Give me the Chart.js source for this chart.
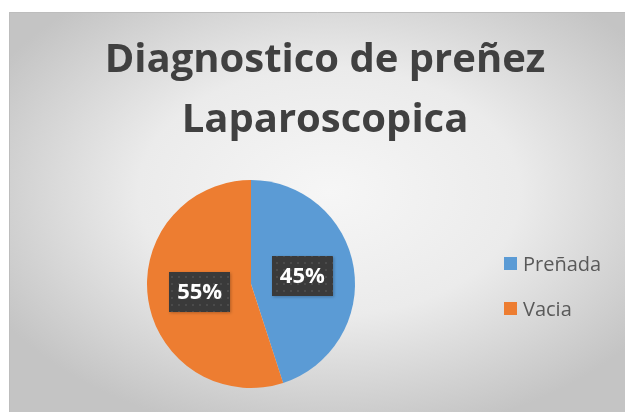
<!DOCTYPE html>
<html>
<head>
<meta charset="utf-8">
<script src="https://cdn.jsdelivr.net/npm/chart.js@4"></script>
<style>
  html, body { margin: 0; padding: 0; background: #ffffff; }
  #wrap { position: relative; width: 625px; height: 412px; }
  canvas { display: block; }
</style>
</head>
<body>
<div id="wrap"><canvas id="c" width="625" height="412"></canvas></div>
<script>
// Diagnóstico de preñez por laparoscopía
const titleLines = ['Diagnostico de preñez', 'Laparoscopica'];
const categories = ['Preñada', 'Vacia'];
const shares = [45, 55];
const sliceColors = ['#5b9bd5', '#ed7d31'];

// Framed panel with a soft radial shading behind everything
const panelBackground = {
  id: 'panelBackground',
  beforeDraw(chart) {
    const ctx = chart.ctx;
    const x0 = 9, y0 = 12, w = chart.width - x0, h = chart.height - y0;
    ctx.save();
    ctx.beginPath();
    ctx.rect(x0, y0, w, h);
    ctx.clip();
    const cx = x0 + w * 0.52, cy = y0 + h * 0.45;
    ctx.translate(cx, cy);
    ctx.scale(1, h / w);
    const g = ctx.createRadialGradient(0, 0, 0, 0, 0, w * 0.62);
    g.addColorStop(0, '#f6f6f6');
    g.addColorStop(0.5, '#ebebeb');
    g.addColorStop(1, '#c4c4c4');
    ctx.fillStyle = g;
    ctx.fillRect(-w, -w, w * 2, w * 2);
    ctx.restore();
    ctx.save();
    ctx.strokeStyle = '#bdbdbd';
    ctx.lineWidth = 1;
    ctx.beginPath();
    ctx.moveTo(x0 + 0.5, chart.height);
    ctx.lineTo(x0 + 0.5, y0 + 0.5);
    ctx.lineTo(chart.width, y0 + 0.5);
    ctx.stroke();
    ctx.restore();
  }
};

// Two-line heading and the legend on the right
const headingAndLegend = {
  id: 'headingAndLegend',
  afterDraw(chart) {
    const ctx = chart.ctx;
    ctx.save();
    ctx.fillStyle = '#404040';
    ctx.textAlign = 'center';
    ctx.textBaseline = 'alphabetic';
    ctx.font = 'bold 40px "Open Sans"';
    ctx.fillText(titleLines[0], 325, 72);
    ctx.fillText(titleLines[1], 325, 132);

    ctx.textAlign = 'left';
    ctx.font = '20px "Open Sans"';
    const rows = [257, 302];
    categories.forEach((name, i) => {
      ctx.fillStyle = sliceColors[i];
      ctx.fillRect(504, rows[i], 13, 13);
      ctx.fillStyle = '#595959';
      ctx.fillText(name, 523, rows[i] + 14);
    });
    ctx.restore();
  }
};

// Dotted dark callouts with the percentage of each slice
function dottedFill(ctx) {
  const p = document.createElement('canvas');
  p.width = 7; p.height = 7;
  const pc = p.getContext('2d');
  pc.fillStyle = '#3a3a3a';
  pc.fillRect(0, 0, 7, 7);
  pc.fillStyle = '#4b4b4b';
  pc.fillRect(3, 3, 2, 2);
  return ctx.createPattern(p, 'repeat');
}

const sliceLabels = {
  id: 'sliceLabels',
  afterDatasetsDraw(chart) {
    const ctx = chart.ctx;
    const meta = chart.getDatasetMeta(0);
    const total = shares.reduce((a, b) => a + b, 0);
    ctx.save();
    const pat = dottedFill(ctx);
    meta.data.forEach((arc, i) => {
      const pt = arc.tooltipPosition();
      const bw = 61, bh = 40;
      ctx.shadowColor = 'rgba(0,0,0,0.25)';
      ctx.shadowBlur = 3;
      ctx.shadowOffsetX = 1;
      ctx.shadowOffsetY = 1;
      ctx.fillStyle = pat;
      ctx.fillRect(Math.round(pt.x - bw / 2), Math.round(pt.y - bh / 2), bw, bh);
      ctx.shadowColor = 'transparent';
      ctx.fillStyle = '#ffffff';
      ctx.font = 'bold 22px "Open Sans"';
      ctx.textAlign = 'center';
      ctx.textBaseline = 'middle';
      const pct = Math.round(shares[i] / total * 100) + '%';
      ctx.fillText(pct, pt.x, pt.y + 1);
    });
    ctx.restore();
  }
};

new Chart(document.getElementById('c'), {
  type: 'pie',
  data: {
    labels: categories,
    datasets: [{
      data: shares,
      backgroundColor: sliceColors,
      borderWidth: 0
    }]
  },
  options: {
    responsive: false,
    animation: false,
    layout: { padding: { left: 147, top: 180, right: 270, bottom: 24 } },
    plugins: {
      legend: { display: false },
      title: { display: false },
      tooltip: { enabled: false }
    }
  },
  plugins: [panelBackground, sliceLabels, headingAndLegend]
});
</script>
</body>
</html>
